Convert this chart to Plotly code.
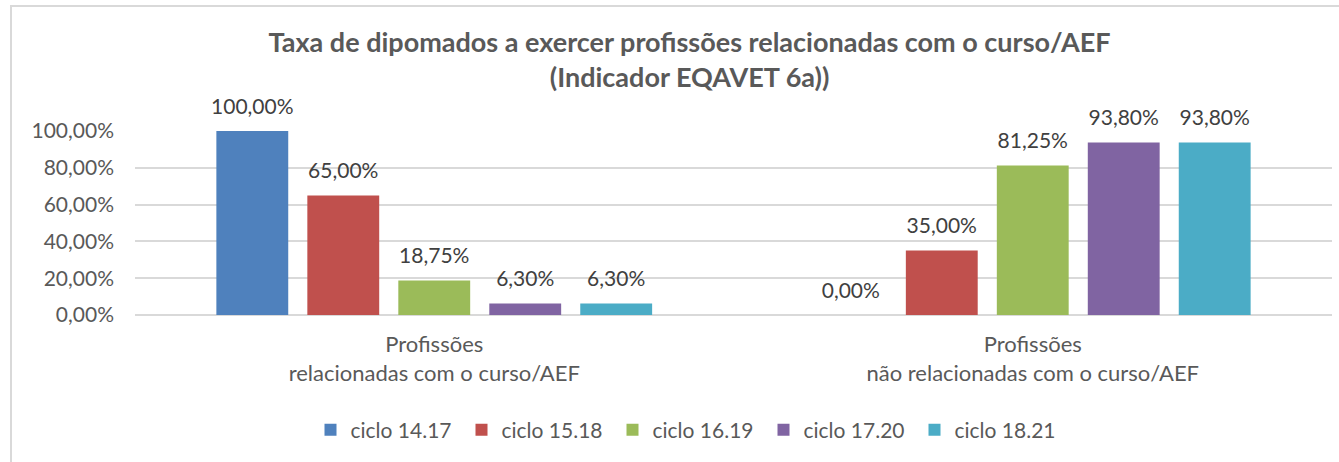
import plotly.graph_objects as go

categories = ["Profissões<br>relacionadas com o curso/AEF",
              "Profissões<br>não relacionadas com o curso/AEF"]
series_names = ["ciclo 14.17", "ciclo 15.18", "ciclo 16.19", "ciclo 17.20", "ciclo 18.21"]
ciclo_1417 = [1.00, 0.00]
ciclo_1518 = [0.65, 0.35]
ciclo_1619 = [0.1875, 0.8125]
ciclo_1720 = [0.063, 0.938]
ciclo_1821 = [0.063, 0.938]
series_values = [ciclo_1417, ciclo_1518, ciclo_1619, ciclo_1720, ciclo_1821]
colors = ["#4F81BD", "#C0504D", "#9BBB59", "#8064A2", "#4BACC6"]
y_ticks = [0, 0.2, 0.4, 0.6, 0.8, 1.0]

FONT = "Lato"
fig = go.Figure()
for name, vals, col in zip(series_names, series_values, colors):
    fig.add_trace(go.Bar(
        name=name, x=categories, y=vals, marker=dict(color=col, line=dict(width=0)),
        offsetgroup=name,
    ))
for name, vals in zip(series_names, series_values):
    fig.add_trace(go.Scatter(
        x=categories, y=vals, mode="markers+text", offsetgroup=name, showlegend=False,
        marker=dict(size=18, opacity=0), texttemplate="%{y:.2%}", textposition="top center",
        cliponaxis=False, hoverinfo="skip",
        textfont=dict(family=FONT, size=21, color="#404040"),
    ))

L, R, T, B = 135, 7, 131, 147
W, H = 1339, 462
pw, ph = W - L - R, H - T - B

fig.update_layout(
    width=W, height=H,
    margin=dict(l=L, r=R, t=T, b=B, autoexpand=False),
    paper_bgcolor="white", plot_bgcolor="white",
    separators=",.",
    barmode="group", bargap=0.24, bargroupgap=0.21,
    scattermode="group", scattergap=0.24,
    title=dict(text="<b>Taxa de dipomados a exercer profissões relacionadas com o curso/AEF<br>(Indicador EQAVET 6a))</b>",
               x=0.515, xanchor="center", y=1 - 52 / H, yanchor="middle", xref="container", yref="container",
               font=dict(family=FONT, size=27, color="#595959")),
    font=dict(family=FONT, color="#595959"),
    showlegend=True,
    legend=dict(orientation="h", x=(688 - L) / pw, xanchor="center", y=(315 - 430) / ph, yanchor="middle",
                font=dict(family=FONT, size=21, color="#595959"), traceorder="normal",
                entrywidth=106, entrywidthmode="pixels"),
    xaxis=dict(showline=False, ticks="", tickfont=dict(family=FONT, size=22, color="#595959"),
               showgrid=False, ticklabelstandoff=14),
    yaxis=dict(range=[0, 1], tickvals=y_ticks, tickformat=".2%", showline=False, ticks="",
               gridcolor="#D9D9D9", gridwidth=1.5, zeroline=True, zerolinecolor="#D9D9D9", zerolinewidth=1.5,
               tickfont=dict(family=FONT, size=21, color="#595959"), ticklabelstandoff=20),
)

fig.add_shape(type="path", xref="paper", yref="paper", layer="below",
              path=f"M {(11 - L) / pw} -3 L {(11 - L) / pw} {(315 - 6) / ph} L 1.2 {(315 - 6) / ph}",
              line=dict(color="#D9D9D9", width=2))

fig.write_html("out.html", config={"displayModeBar": False},
               post_script="document.body.style.margin='0';document.body.style.overflow='hidden';")
